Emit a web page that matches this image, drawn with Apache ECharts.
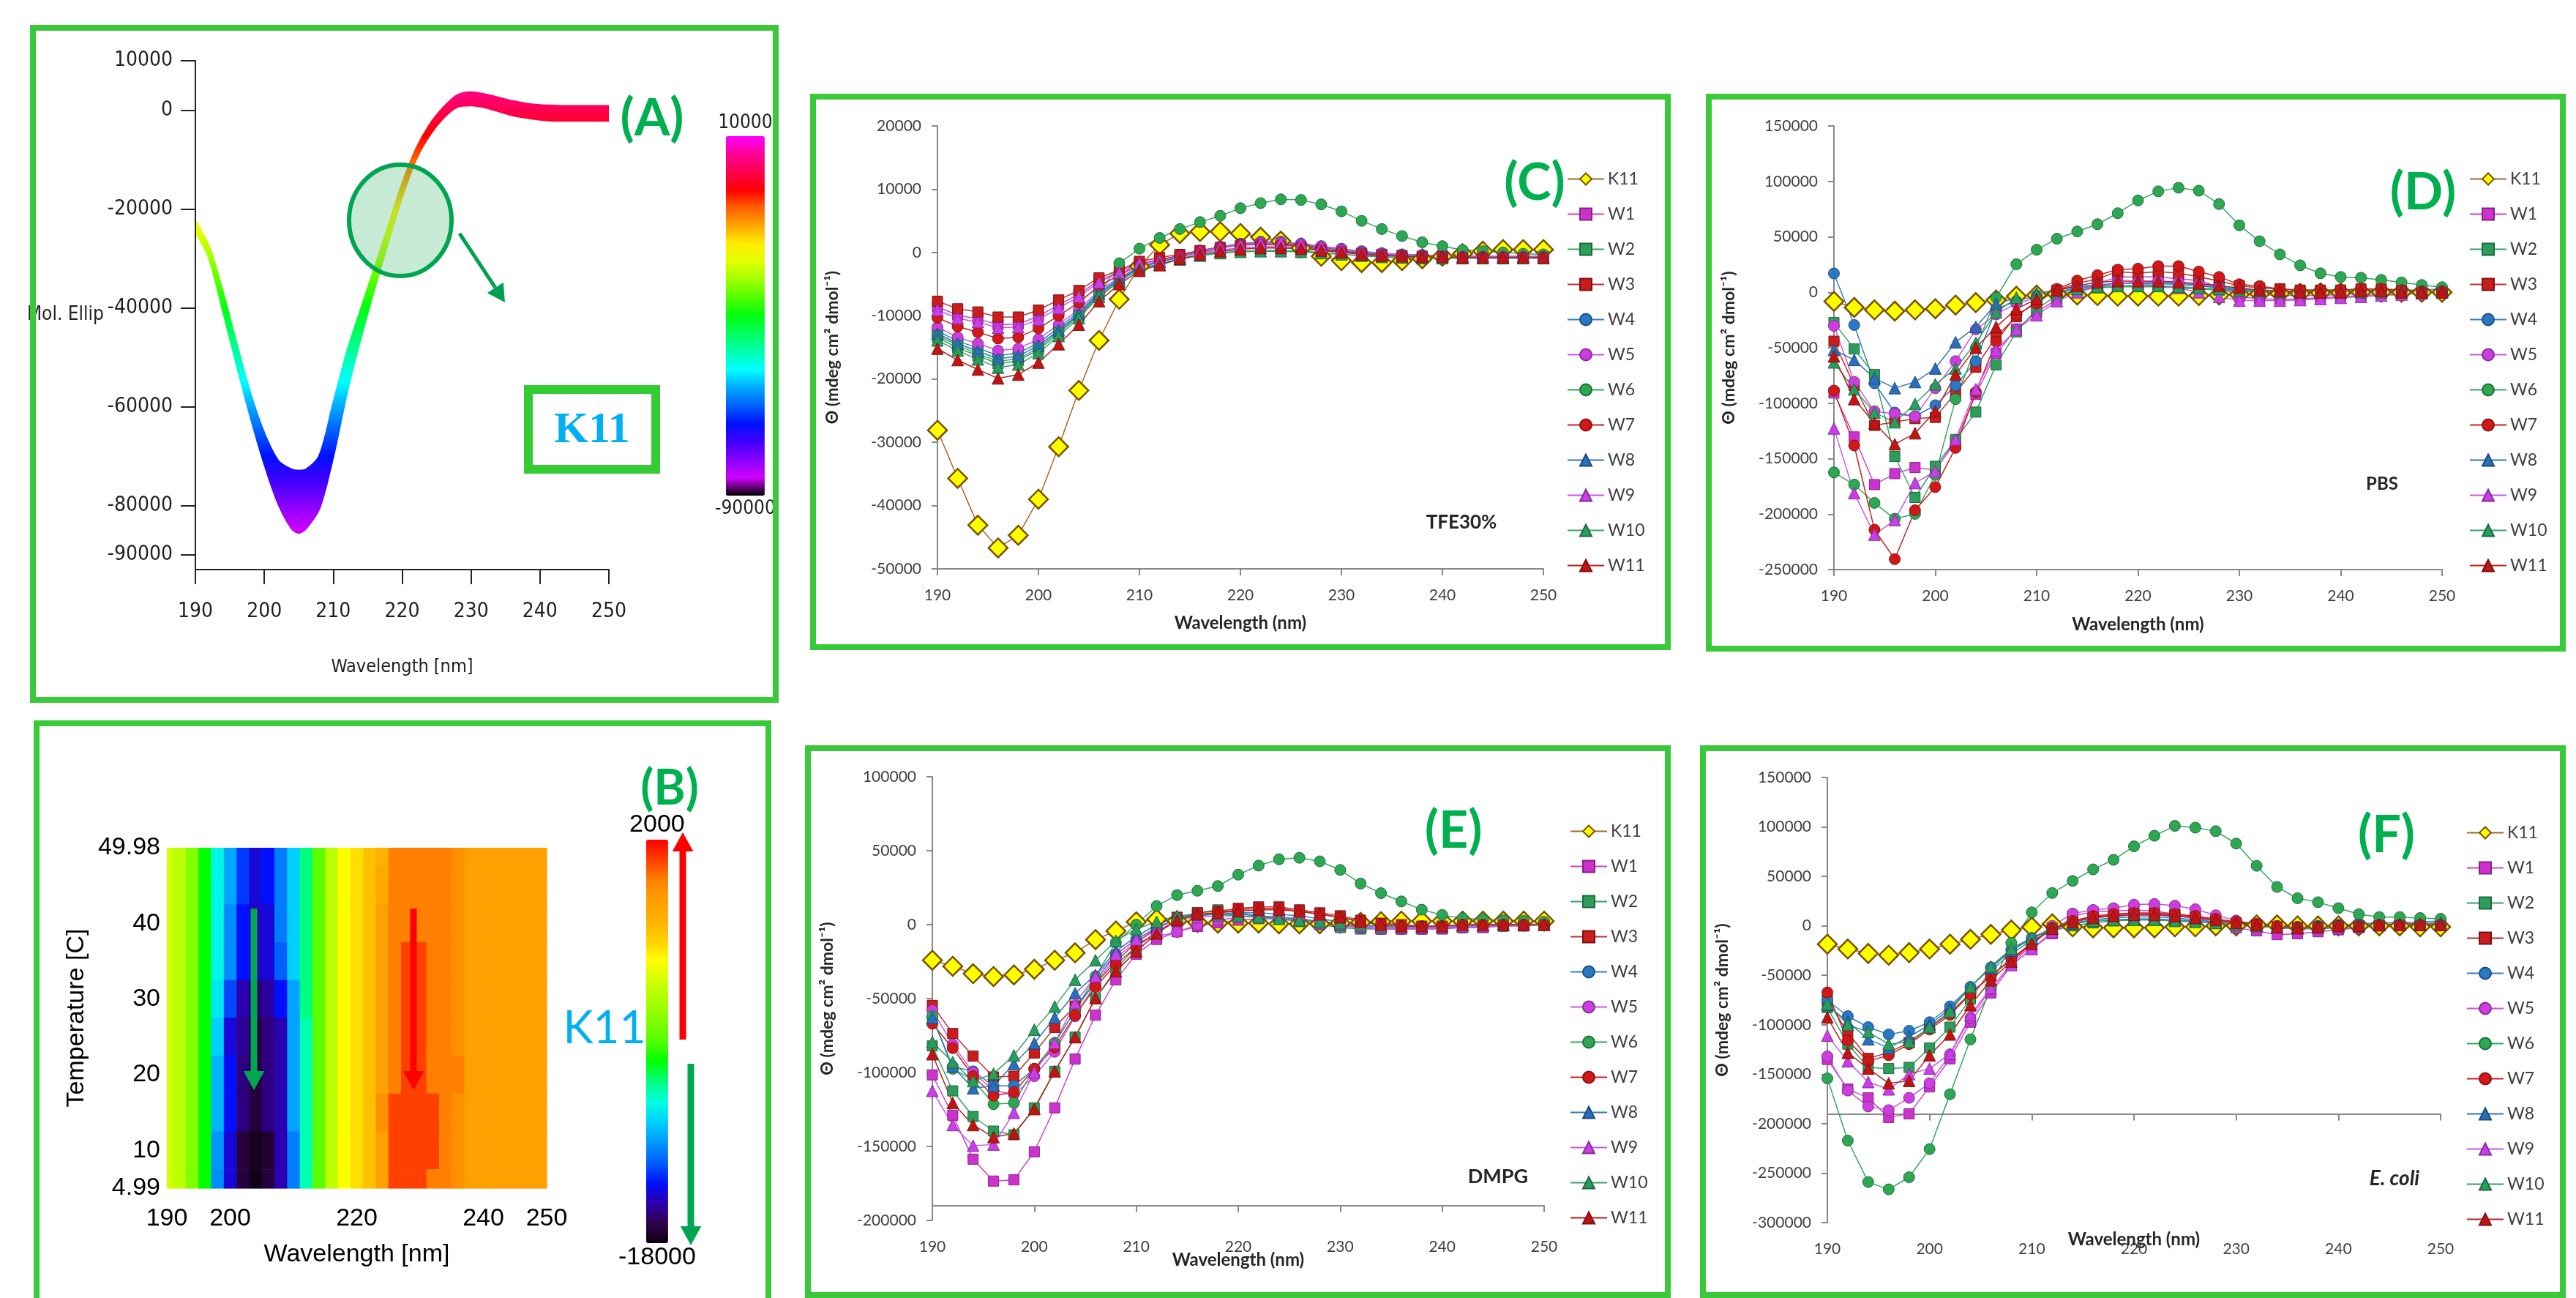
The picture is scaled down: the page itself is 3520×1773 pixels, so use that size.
<!DOCTYPE html>
<html>
<head>
<meta charset="utf-8">
<script src="https://cdn.jsdelivr.net/npm/echarts@6/dist/echarts.min.js"></script>
<style>
html,body{margin:0;padding:0;background:#fff}
#chart{width:3520px;height:1773px}
</style>
</head>
<body>
<div id="chart"></div>
<script>
// ---------- data ----------
var wavelengths = [190,192,194,196,198,200,202,204,206,208,210,212,214,216,218,220,222,224,226,228,230,232,234,236,238,240,242,244,246,248,250];
var seriesNames = ['K11','W1','W2','W3','W4','W5','W6','W7','W8','W9','W10','W11'];

// panel A: K11 band (upper / lower edge of the temperature curves)
var waveA  = [190,192,194,196,198,200,202,204,205,206,208,210,212,214,216,218,220,222,224,226,228,230,232,234,236,238,240,242,244,246,248,250];
var upperA = [-22500,-27700,-37000,-47500,-57500,-65500,-71000,-72800,-73000,-72800,-70000,-59500,-49000,-40500,-32000,-23500,-15000,-8000,-3000,500,3000,3600,3200,2500,1800,1300,1000,900,800,800,800,800];
var lowerA = [-24500,-30000,-40500,-51500,-62000,-71500,-79500,-84700,-85500,-84700,-80500,-70000,-57000,-46000,-36000,-26500,-17500,-10000,-5000,-1500,700,1000,600,-200,-1000,-1500,-1900,-2100,-2100,-2100,-2100,-2100];
var ticksA = [10000,0,-20000,-40000,-60000,-80000,-90000];

// panel B: thermal scan heat map
var tempRows = [49.98,45,40,35,30,25,20,15,10,4.99];
var heatT50 = [-5000,-5500,-7000,-9000,-11200,-12700,-14500,-15500,-15000,-13500,-12000,-10000,-7800,-5500,-4000,-3300,-2500,-2000,0,0,0,0,0,-500,-1000,-1000,-1000,-1000,-1000,-1000,-1000];
var heatT45 = [-5000,-5500,-7000,-9000,-11200,-12700,-14500,-15500,-15000,-13500,-12000,-10000,-7800,-5500,-4000,-3300,-2500,-1500,0,0,0,0,0,-500,-1000,-1000,-1000,-1000,-1000,-1000,-1000];
var heatT40 = [-5000,-5500,-7000,-9000,-11200,-13200,-15000,-15800,-15500,-13500,-12000,-10000,-7800,-5500,-4000,-3300,-2500,-1000,0,0,0,0,0,-500,-1000,-1000,-1000,-1000,-1000,-1000,-1000];
var heatT35 = [-5000,-5500,-7000,-9000,-11200,-13200,-15000,-15800,-15500,-14000,-12000,-10000,-7800,-5500,-4000,-3300,-2500,-1000,0,1000,1000,0,0,-500,-1000,-1000,-1000,-1000,-1000,-1000,-1000];
var heatT30 = [-5000,-5500,-7000,-9000,-11500,-14300,-16000,-16700,-16200,-15000,-12800,-10000,-7800,-5500,-4000,-3300,-2500,-1000,0,1000,1000,0,0,-500,-1000,-1000,-1000,-1000,-1000,-1000,-1000];
var heatT25 = [-5000,-5500,-7000,-9000,-12000,-15500,-16300,-17300,-16500,-16000,-12800,-10500,-7800,-5500,-4000,-3300,-2500,-1000,0,1000,1000,0,0,-500,-1000,-1000,-1000,-1000,-1000,-1000,-1000];
var heatT20 = [-5000,-5500,-7000,-9000,-12500,-15000,-16500,-17300,-16500,-16000,-12800,-10500,-7800,-5500,-4000,-3300,-2500,-1000,0,1000,1000,0,0,0,-1000,-1000,-1000,-1000,-1000,-1000,-1000];
var heatT15 = [-5000,-5500,-7000,-9000,-12500,-15000,-16500,-17300,-16500,-16000,-12800,-10500,-7800,-5500,-4000,-3300,-2500,-500,1000,1000,1000,1000,0,-500,-1000,-1000,-1000,-1000,-1000,-1000,-1000];
var heatT10 = [-5000,-5500,-7000,-9000,-13000,-15500,-17300,-17800,-17500,-16000,-13500,-10500,-7800,-5500,-4000,-3300,-2500,-1000,1000,1000,1000,1000,0,-500,-1000,-1000,-1000,-1000,-1000,-1000,-1000];
var heatT5  = [-5000,-5500,-7000,-9000,-13200,-15500,-17300,-17900,-17300,-16000,-13500,-10500,-7800,-5500,-4000,-3300,-2500,-1000,1000,1000,1000,0,0,-500,-1000,-1000,-1000,-1000,-1000,-1000,-1000];
var heatRows = [heatT50,heatT45,heatT40,heatT35,heatT30,heatT25,heatT20,heatT15,heatT10,heatT5];

// panel C: TFE30%
var tfeK11 = [-28100,-35700,-43100,-46700,-44700,-39000,-30700,-21800,-13900,-7400,-2200,1200,3000,3300,3300,3000,2400,1800,700,-600,-1300,-1600,-1600,-1300,-1000,-600,-200,200,450,450,450];
var tfeW1  = [-8600,-9900,-10500,-11400,-11300,-10100,-8300,-6600,-4400,-3100,-1600,-1200,-600,0,400,700,900,900,700,400,100,-200,-400,-500,-600,-600,-600,-600,-600,-600,-600];
var tfeW2  = [-13400,-15100,-16300,-17600,-17100,-15400,-12800,-10100,-6800,-4500,-2500,-1800,-1000,-400,0,200,300,300,200,0,-300,-500,-700,-800,-800,-800,-800,-800,-800,-800,-800];
var tfeW3  = [-7700,-8900,-9400,-10200,-10200,-9100,-7500,-6000,-4000,-2800,-1400,-800,-300,300,800,1100,1300,1200,900,500,200,-100,-300,-500,-600,-600,-700,-700,-700,-700,-700];
var tfeW4  = [-12400,-14000,-15100,-16300,-15900,-14300,-11900,-9400,-6300,-4200,-2300,-1400,-700,200,900,1400,1700,1700,1400,1000,600,200,-100,-300,-400,-500,-500,-600,-600,-600,-600];
var tfeW5  = [-11800,-13400,-14400,-15500,-15200,-13700,-11400,-9000,-6000,-4000,-2200,-1300,-600,300,900,1300,1600,1600,1300,900,500,100,-200,-400,-500,-500,-600,-600,-600,-600,-600];
var tfeW6  = [-13100,-14700,-16000,-17200,-16800,-15100,-12500,-9900,-6700,-1700,600,2300,3700,4800,5800,7000,7800,8400,8300,7600,6500,5000,3700,2600,1600,1000,400,200,0,-200,-300];
var tfeW7  = [-10300,-11700,-12600,-13600,-13400,-12000,-10000,-7900,-5300,-3600,-1900,-1100,-500,300,800,1200,1300,1200,1000,600,200,-100,-400,-500,-600,-700,-700,-700,-700,-700,-700];
var tfeW8  = [-12800,-14400,-15600,-16800,-16400,-14700,-12300,-9700,-6500,-4300,-2400,-1500,-800,100,700,1200,1500,1500,1200,800,400,0,-300,-400,-500,-500,-600,-600,-600,-600,-600];
var tfeW9  = [-9100,-10400,-11000,-11900,-11800,-10600,-8800,-7000,-4700,-3200,-1700,-1300,-600,200,800,1200,1500,1600,1400,1000,500,100,-200,-400,-500,-600,-600,-600,-600,-600,-600];
var tfeW10 = [-13900,-15500,-16900,-18200,-17700,-15900,-13200,-10400,-7000,-4600,-2600,-1900,-1100,-500,-100,100,200,200,100,-100,-300,-500,-700,-800,-900,-900,-900,-900,-900,-900,-900];
var tfeW11 = [-15200,-17000,-18500,-19900,-19300,-17400,-14500,-11400,-7700,-5000,-2900,-2000,-1000,-300,200,500,700,700,600,300,0,-300,-500,-600,-700,-700,-800,-800,-800,-800,-800];

// panel D: PBS
var pbsK11 = [-8200,-13700,-15900,-17000,-15900,-14800,-11500,-9300,-7000,-3500,-2500,-1500,-2500,-3000,-3500,-3500,-3500,-3500,-3000,-2500,-2000,-1500,-1000,-1000,-500,-500,0,0,0,0,0];
var pbsW1  = [-90800,-130400,-173400,-163500,-158000,-160200,-134800,-92000,-55000,-33000,-18000,-6000,2000,8000,13800,13800,13800,12200,10500,5000,-4000,-6000,-6500,-6000,-5000,-4000,-3000,-2000,-1500,-1000,0];
var pbsW2  = [-27300,-51100,-74200,-148000,-185000,-156900,-133000,-108000,-65400,-35700,-15000,-3000,2000,4000,5000,5000,5000,4000,3000,2000,1000,0,0,0,0,500,1000,1000,1000,1000,1000];
var pbsW3  = [-44100,-84100,-120000,-117000,-113900,-112800,-90800,-67600,-40100,-22000,-8000,2000,8000,12000,18700,17100,18700,17100,14000,10000,6000,4000,3000,2000,2000,2000,3000,3000,2000,1000,1000];
var pbsW4  = [17000,-29500,-82000,-108400,-111700,-101800,-84100,-62100,-15000,-8000,-3000,0,4000,6000,8000,9000,9000,8000,7000,5000,3000,2000,1000,1000,1000,1000,2000,2000,2000,2000,3000];
var pbsW5  = [-30200,-80800,-107300,-109500,-112000,-86400,-62100,-33500,-20000,-10000,-5000,-1000,3000,6000,8000,9000,10000,9000,7000,4000,0,-2000,-3000,-3000,-3000,-2000,-1000,0,0,0,0];
var pbsW6  = [-162400,-173400,-189900,-204200,-199800,-164700,-96300,-50000,-4800,25300,38400,48300,54800,61400,71300,82800,91000,94300,91600,79500,60400,46000,34200,24300,17100,13800,13100,11200,8900,6600,4600];
var pbsW7  = [-88600,-138100,-214100,-240600,-196500,-175600,-140300,-90000,-44500,-20300,-10000,3000,10500,15400,20400,21300,23600,23600,18700,13800,7200,5600,3000,2000,2000,2000,3000,3000,2000,1000,1000];
var pbsW8  = [-52000,-61000,-77500,-86400,-80900,-68700,-45000,-31300,-10400,-4800,-1000,2000,5000,7000,8000,8000,8000,7000,6000,4000,2000,1000,0,0,0,0,1000,1000,1000,1000,1000];
var pbsW9  = [-122700,-181100,-218500,-205300,-172000,-161300,-132600,-87500,-52200,-33500,-20700,-8000,0,5000,8000,8000,6000,4000,0,-4000,-7500,-7500,-7500,-7000,-6000,-5000,-4000,-3000,-2000,-1000,0];
var pbsW10 = [-63200,-87500,-108400,-117200,-100700,-83000,-68700,-45600,-18100,-5000,-2000,1000,3000,5000,6000,6000,6000,5000,4000,3000,2000,1000,0,0,0,0,0,0,0,0,0];
var pbsW11 = [-57700,-96300,-118000,-137000,-127100,-107300,-74200,-50000,-31300,-15000,-6000,2000,6000,9000,10000,10000,10000,9000,8000,6000,4000,2000,1000,0,0,0,1000,1000,0,0,0];

// panel E: DMPG
var dmpgK11 = [-24100,-28200,-33200,-35100,-34000,-30200,-24100,-19100,-10100,-4300,1900,3600,2500,1500,1000,1000,1000,500,500,500,1000,1500,2000,2400,2400,2400,2400,2400,2400,2400,2400];
var dmpgW1  = [-101600,-128900,-158600,-173400,-172600,-153600,-123900,-90900,-61200,-37300,-20000,-10000,-4800,-1200,1200,3000,4000,4000,3000,1000,-1000,-2000,-3000,-3000,-3000,-3000,-2000,-2000,-1000,-1000,0];
var dmpgW2  = [-82000,-112400,-129700,-139600,-142100,-123900,-99200,-76100,-50000,-30000,-15000,-5000,3000,8000,10000,8000,6000,4000,2000,0,-2000,-3000,-3000,-3000,-3000,-2000,-2000,-1000,-1000,0,0];
var dmpgW3  = [-54600,-73600,-88900,-103000,-102500,-86800,-69500,-55000,-40000,-25000,-12000,-3000,5000,8000,9000,11000,12000,12000,10000,8000,6000,3000,1000,0,-1000,-1000,-1000,0,0,0,0];
var dmpgW4  = [-62900,-95900,-99200,-109000,-109000,-97500,-80000,-58000,-38000,-20000,-10000,-2000,4000,6000,7000,8000,8000,7000,6000,4000,2000,0,-1000,-2000,-2000,-2000,-1000,-1000,0,0,0];
var dmpgW5  = [-57900,-81000,-100000,-112000,-115000,-102500,-86000,-62000,-40000,-22000,-12000,-8000,-5000,0,3000,5000,6000,5000,4000,2000,0,-2000,-3000,-3000,-3000,-2000,-2000,-1000,-1000,0,0];
var dmpgW6  = [-62000,-97500,-105000,-121400,-120600,-97500,-80000,-58000,-35000,-12000,0,12600,20000,22900,26100,33800,39900,44200,45200,42800,37000,27800,21300,15700,10100,6500,4300,3500,3000,2500,2000];
var dmpgW7  = [-67000,-83500,-102500,-115700,-113200,-97500,-83000,-61200,-42200,-27000,-15000,-5000,3000,6000,8000,10000,11000,11000,9000,7000,5000,2000,0,-1000,-1000,-1000,0,0,0,0,0];
var dmpgW8  = [-63000,-96000,-110700,-109000,-94200,-80200,-62900,-46400,-34000,-18000,-8000,0,5000,7000,7000,7000,6000,5000,4000,2000,0,-1000,-2000,-2000,-2000,-2000,-1000,-1000,0,0,0];
var dmpgW9  = [-112400,-135500,-149500,-148700,-127200,-100000,-80000,-53000,-35000,-20000,-10000,-3000,4000,5000,6000,6000,5000,4000,3000,1000,0,-1000,-2000,-2000,-2000,-2000,-1000,-1000,0,0,0];
var dmpgW10 = [-79400,-93000,-105800,-100800,-88400,-71100,-55400,-37300,-24100,-10900,-3000,2000,6000,7000,7000,6000,5000,4000,3000,2000,1000,0,-1000,-1000,-1000,-1000,0,0,0,0,0];
var dmpgW11 = [-87600,-120600,-135500,-143700,-141200,-124700,-99200,-76100,-49700,-31500,-18000,-6000,3000,7000,8000,9000,10000,10000,9000,7000,5000,2000,0,-1000,-1000,-1000,0,0,0,0,0];

// panel F: E. coli
var ecoliK11 = [-18500,-23400,-27900,-29600,-27100,-23400,-18500,-13600,-8600,-4200,-1200,2000,-1000,-2000,-2000,-2000,-2000,-1000,-1000,0,0,1000,1000,0,0,0,0,0,0,-1000,-1000];
var ecoliW1  = [-135000,-165000,-173900,-193700,-190000,-162800,-134400,-97400,-67800,-40000,-23400,-8000,10000,14000,15000,16000,15000,12000,8000,3000,-2000,-5000,-8900,-8000,-6000,-4000,-2000,0,1000,2000,3000];
var ecoliW2  = [-82600,-119600,-143100,-144300,-143100,-123400,-102400,-74000,-45000,-28000,-15000,-5000,0,3000,5000,6000,6000,5000,4000,3000,2000,0,-2000,-3000,-3000,-2000,-1000,0,0,0,0];
var ecoliW3  = [-75000,-108000,-134000,-128000,-118000,-103000,-88000,-68000,-50600,-34500,-17300,-2000,5000,9000,11000,12000,12000,11000,9000,6000,3000,1000,-1000,-2000,-2000,-1000,0,0,1000,1000,1000];
var ecoliW4  = [-75200,-91300,-102400,-109800,-106100,-97400,-81400,-61700,-41900,-24000,-12300,-3000,3000,6000,8000,9000,9000,8000,6000,4000,2000,0,-1000,-1000,0,1000,2000,3000,3000,4000,5000];
var ecoliW5  = [-132000,-166500,-182600,-186300,-173900,-159100,-130000,-93000,-64000,-38000,-20000,0,12500,16100,17900,21400,22100,20400,16800,10700,5400,1800,-1800,-2000,-2000,-1000,0,1000,2000,2000,3000];
var ecoliW6  = [-154200,-217100,-259000,-266400,-254100,-225700,-170200,-114700,-62000,-17300,13600,33200,45400,57100,66800,80400,91100,101100,99300,95700,83200,60700,39300,27900,23900,17900,11800,8900,8900,7900,7100];
var ecoliW7  = [-67300,-116000,-136900,-130800,-119600,-104800,-90000,-69100,-50600,-33000,-17300,-2000,5000,10000,12000,13000,13000,12000,10000,7000,4000,2000,0,-1000,-1000,0,0,1000,1000,1000,1000];
var ecoliW8  = [-80000,-97000,-114700,-123400,-112000,-100000,-84000,-61700,-42500,-25000,-13000,-3000,2000,5000,6000,7000,7000,6000,5000,3000,1000,0,-1000,-1000,0,0,1000,1000,2000,2000,3000];
var ecoliW9  = [-111000,-136900,-157900,-165300,-150000,-144300,-129500,-90000,-62900,-39500,-23400,-6000,4000,8000,10000,11000,11000,10000,8000,5000,2000,0,-2000,-3000,-2000,-1000,0,1000,1000,2000,2000];
var ecoliW10 = [-78900,-100000,-107300,-119600,-117200,-102400,-86300,-61700,-41000,-23000,-12000,-2000,3000,5000,6000,6000,6000,5000,4000,3000,1000,0,-1000,-1000,0,0,1000,1000,1000,2000,2000];
var ecoliW11 = [-92500,-128300,-144300,-159100,-156700,-130800,-109800,-80200,-55000,-36000,-18000,-3000,4000,8000,10000,11000,11000,10000,8000,6000,3000,1000,-1000,-2000,-1000,0,0,1000,1000,1000,1000];

var tfeData   = [tfeK11,tfeW1,tfeW2,tfeW3,tfeW4,tfeW5,tfeW6,tfeW7,tfeW8,tfeW9,tfeW10,tfeW11];
var pbsData   = [pbsK11,pbsW1,pbsW2,pbsW3,pbsW4,pbsW5,pbsW6,pbsW7,pbsW8,pbsW9,pbsW10,pbsW11];
var dmpgData  = [dmpgK11,dmpgW1,dmpgW2,dmpgW3,dmpgW4,dmpgW5,dmpgW6,dmpgW7,dmpgW8,dmpgW9,dmpgW10,dmpgW11];
var ecoliData = [ecoliK11,ecoliW1,ecoliW2,ecoliW3,ecoliW4,ecoliW5,ecoliW6,ecoliW7,ecoliW8,ecoliW9,ecoliW10,ecoliW11];

// ---------- styles ----------
var symbols   = ['diamond','rect','rect','rect','circle','circle','circle','circle','triangle','triangle','triangle','triangle'];
var symSizes  = [26,14,14,14,15,15,15,15,16,16,16,16];
var fills     = ['#ffff00','#cc33cc','#2e9c5a','#c81e1e','#2b78c2','#cc3fdc','#2ea653','#d01818','#2b6fb8','#c83fe6','#2a9c5e','#bf1515'];
var borders   = ['#7a5200','#8a1f8a','#1d6b3c','#801010','#1a4f85','#8a2a99','#1d7038','#8a1010','#1a4a80','#8a2aa0','#1d6b40','#801010'];
var lineCols  = ['#a8672a','#cc44cc','#33a366','#c03030','#3380c8','#cc55dd','#33a860','#cc2020','#3377bb','#cc55ee','#33a366','#bb2020'];

var narrow = "'Liberation Sans Narrow', 'DejaVu Sans Condensed', 'Liberation Sans', sans-serif";
var plain = function (v) { return String(v); };

var chart = echarts.init(document.getElementById('chart'));

var grids = [
  {left: 267, top: 83, width: 565, height: 695},
  {left: 228, top: 1158, width: 519, height: 465},
  {left: 1281, top: 172, width: 828, height: 605},
  {left: 2506, top: 172, width: 831, height: 606},
  {left: 1274, top: 1061, width: 836, height: 606},
  {left: 2497, top: 1062, width: 838, height: 608}
];

function xAxisCD(gi, gap, zeroIdx) {
  var line = {show: true, onZero: false, lineStyle: {color: '#888', width: 2}};
  if (zeroIdx != null) { line.onZero = true; line.onZeroAxisIndex = zeroIdx; }
  return {
    gridIndex: gi, type: 'value', min: 190, max: 250, interval: 10,
    axisLine: line,
    axisTick: {show: true, length: 9, lineStyle: {color: '#888', width: 2}},
    axisLabel: {margin: 26, fontSize: 21, fontFamily: 'Lato', color: '#404040'},
    splitLine: {show: false},
    name: 'Wavelength (nm)', nameLocation: 'middle', nameGap: gap, nameMoveOverlap: false,
    nameTextStyle: {fontSize: 24, fontWeight: 'bold', fontFamily: 'Lato', color: '#262626'}
  };
}
function yAxisCD(gi, min, max, step) {
  return {
    gridIndex: gi, type: 'value', min: min, max: max, interval: step,
    axisLine: {show: true, lineStyle: {color: '#888', width: 2}},
    axisTick: {show: true, length: 8, lineStyle: {color: '#888', width: 2}},
    axisLabel: {margin: 22, fontSize: 21, fontFamily: 'Lato', color: '#404040', formatter: plain},
    splitLine: {show: false},
    name: 'Θ (mdeg cm² dmol⁻¹)', nameLocation: 'middle', nameGap: 132,
    nameTextStyle: {fontSize: 23, fontWeight: 'bold', fontFamily: 'Lato', color: '#262626'}
  };
}

function panelSeries(gi, data) {
  return seriesNames.map(function (n, i) {
    return {
      name: n, type: 'line', xAxisIndex: gi, yAxisIndex: gi,
      data: wavelengths.map(function (w, j) { return [w, data[i][j]]; }),
      symbol: symbols[i], symbolSize: symSizes[i],
      lineStyle: {color: lineCols[i], width: 1.5},
      itemStyle: {color: fills[i], borderColor: borders[i], borderWidth: i === 0 ? 2.5 : 1},
      z: 3
    };
  });
}

function legendAt(left, top) {
  return {
    data: seriesNames, orient: 'vertical', left: left, top: top, padding: 0,
    itemWidth: 50, itemHeight: 20, itemGap: 25, selectedMode: false,
    textStyle: {fontSize: 23, fontFamily: 'Lato', color: '#404040'}
  };
}

var heatData = [];
heatRows.forEach(function (row, r) {
  row.forEach(function (v, c) { heatData.push([wavelengths[c], tempRows[r], v]); });
});

function renderCell(params, api) {
  var w = api.value(0), t = api.value(1);
  var p0 = api.coord([Math.max(w - 1, 190), Math.min(t + 2.5, 49.98)]);
  var p1 = api.coord([Math.min(w + 1, 250), Math.max(t - 2.5, 4.99)]);
  return {
    type: 'rect',
    shape: {x: p0[0], y: p0[1], width: p1[0] - p0[0] + 0.6, height: p1[1] - p0[1] + 0.6},
    style: {fill: api.visual('color')}
  };
}

// ---------- decorations ----------
function arrow(x1, y1, x2, y2, color, w, head) {
  var dx = x2 - x1, dy = y2 - y1, len = Math.sqrt(dx * dx + dy * dy);
  var ux = dx / len, uy = dy / len;
  var bx = x2 - ux * head, by = y2 - uy * head, hw = head * 0.55;
  return [
    {type: 'line', z: 100, shape: {x1: x1, y1: y1, x2: bx, y2: by}, style: {stroke: color, lineWidth: w}},
    {type: 'polygon', z: 100, shape: {points: [[x2, y2], [bx - uy * hw, by + ux * hw], [bx + uy * hw, by - ux * hw]]}, style: {fill: color}}
  ];
}
function frame(x1, y1, x2, y2) {
  return {type: 'rect', z: 50, shape: {x: x1, y: y1, width: x2 - x1, height: y2 - y1},
    style: {fill: 'none', stroke: '#39c939', lineWidth: 8}};
}
function label(txt, x, y, font, color) {
  return {type: 'text', z: 100, style: {text: txt, x: x, y: y, font: font, fill: color, align: 'center', verticalAlign: 'middle'}};
}

var elements = [
  frame(45, 38, 1060, 956),
  frame(50, 988, 1050, 1790),
  frame(1111, 132, 2279, 884),
  frame(2335, 132, 3502, 886),
  frame(1104, 1022, 2279, 1769),
  frame(2327, 1022, 3502, 1769),
  {type: 'ellipse', z: 90, shape: {cx: 547, cy: 301, rx: 70, ry: 76},
    style: {fill: 'rgba(70,185,115,0.30)', stroke: '#00a550', lineWidth: 6}},
  {type: 'rect', z: 90, shape: {x: 722, y: 532, width: 174, height: 109},
    style: {fill: '#fff', stroke: '#33cc33', lineWidth: 12}},
  label('K11', 809, 588, "bold 60px 'Liberation Serif', serif", '#00b0f0'),
  label('(A)', 891, 162, 'bold 70px Lato', '#00b050'),
  label('(B)', 915, 1078, 'bold 66px Lato', '#00b050'),
  label('K11', 826, 1405, '62px Lato', '#00b0f0'),
  label('(C)', 2097, 250, 'bold 70px Lato', '#00b050'),
  label('(D)', 3311, 263, 'bold 70px Lato', '#00b050'),
  label('(E)', 1986, 1135, 'bold 70px Lato', '#00b050'),
  label('(F)', 3261, 1141, 'bold 70px Lato', '#00b050'),
  label('TFE30%', 1997, 714, 'bold 26px Lato', '#262626'),
  label('PBS', 3255, 661, 'bold 24px Lato', '#262626'),
  label('DMPG', 2047, 1607, 'bold 27px Lato', '#262626'),
  label('E. coli', 3272, 1610, 'italic bold 28px Lato', '#262626')
]
.concat(arrow(628, 319, 690, 413, '#00a050', 5, 24))
.concat(arrow(347, 1241, 347, 1489, '#00a651', 9, 26))
.concat(arrow(565, 1241, 565, 1489, '#ff0000', 9, 26))
.concat(arrow(933, 1420, 933, 1137, '#ff0000', 9, 26))
.concat(arrow(944, 1453, 944, 1701, '#00a651', 9, 26));

// ---------- option ----------
var option = {
  animation: false,
  backgroundColor: '#ffffff',
  grid: grids.map(function (g) { return Object.assign({outerBoundsMode: 'none', containLabel: false}, g); }),
  xAxis: [
    {
      gridIndex: 0, type: 'value', min: 190, max: 250, interval: 10, z: 10,
      axisLine: {show: true, onZero: false, lineStyle: {color: '#222', width: 2}},
      axisTick: {show: true, length: 20, lineStyle: {color: '#222', width: 2}},
      axisLabel: {margin: 44, fontSize: 28, fontFamily: narrow, color: '#222'},
      splitLine: {show: false},
      name: 'Wavelength [nm]', nameLocation: 'middle', nameGap: 121,
      nameTextStyle: {fontSize: 25, fontFamily: narrow, color: '#222'}
    },
    {
      gridIndex: 1, type: 'value', min: 190, max: 250,
      axisLine: {show: false, onZero: false}, axisTick: {show: false},
      axisLabel: {customValues: [190, 200, 220, 240, 250], margin: 25, fontSize: 34, fontFamily: 'Liberation Sans', color: '#000'},
      splitLine: {show: false},
      name: 'Wavelength [nm]', nameLocation: 'middle', nameGap: 74,
      nameTextStyle: {fontSize: 34, fontFamily: 'Liberation Sans', color: '#000'}
    },
    xAxisCD(2, 62),
    xAxisCD(3, 63),
    xAxisCD(4, 42, 6),
    xAxisCD(5, 11, 7)
  ],
  yAxis: [
    {
      gridIndex: 0, type: 'value', min: -93000, max: 10000, z: 10,
      axisLine: {show: true, onZero: false, lineStyle: {color: '#222', width: 2}},
      axisTick: {show: true, length: 20, customValues: ticksA, lineStyle: {color: '#222', width: 2}},
      axisLabel: {customValues: ticksA, margin: 31, fontSize: 28, fontFamily: narrow, color: '#222', formatter: plain},
      splitLine: {show: false},
      name: 'Mol. Ellip', nameLocation: 'middle', nameRotate: 0, nameGap: 89,
      nameTextStyle: {fontSize: 26, fontFamily: narrow, color: '#222'}
    },
    {
      gridIndex: 1, type: 'value', min: 4.99, max: 49.98,
      axisLine: {show: false, onZero: false}, axisTick: {show: false},
      axisLabel: {customValues: [4.99, 10, 20, 30, 40, 49.98], margin: 9, fontSize: 34, fontFamily: 'Liberation Sans', color: '#000', formatter: plain},
      splitLine: {show: false},
      name: 'Temperature [C]', nameLocation: 'middle', nameGap: 106,
      nameTextStyle: {fontSize: 34, fontFamily: 'Liberation Sans', color: '#000'}
    },
    yAxisCD(2, -50000, 20000, 10000),
    yAxisCD(3, -250000, 150000, 50000),
    yAxisCD(4, -200000, 100000, 50000),
    yAxisCD(5, -300000, 150000, 50000),
    // hidden helper axes whose zero sits at -190000, where the x axes of E and F cross
    {gridIndex: 4, type: 'value', min: -10000, max: 290000, show: false},
    {gridIndex: 5, type: 'value', min: -110000, max: 340000, show: false}
  ],
  visualMap: [
    {
      type: 'continuous', min: -90000, max: 10000, dimension: 1, seriesIndex: [0, 1],
      orient: 'vertical', left: 977, top: 155, itemWidth: 53, itemHeight: 491,
      text: ['10000', '-90000'], textGap: 5, calculable: false, hoverLink: false, padding: 0,
      textStyle: {fontSize: 26, fontFamily: narrow, color: '#222'},
      inRange: {color: ['#000000','#d000ff','#8800ff','#4000ff','#0010ff','#0060ff','#00a8ff','#00ffff','#00ffb0','#00ff60','#00ff10','#50ff00','#a0ff00','#e0ff00','#ffee00','#ffa800','#ff6000','#ff0000','#ff0050','#ff0098','#ff00ff']}
    },
    {
      type: 'continuous', min: -18000, max: 2000, dimension: 2, seriesIndex: 2,
      orient: 'vertical', left: 845, top: 1110, itemWidth: 30, itemHeight: 551,
      text: ['2000', '-18000'], textGap: 3, calculable: false, hoverLink: false, padding: 0,
      textStyle: {fontSize: 34, fontFamily: 'Liberation Sans', color: '#000'},
      inRange: {color: ['#100010','#300050','#2a00b0','#0010ff','#0060ff','#0098ff','#00d0ff','#00ffe0','#00ff80','#00ff00','#50ff00','#80ff00','#a8ff00','#d0ff00','#ffff00','#ffd000','#ffb000','#ffa000','#ff8000','#ff4000','#ff0000']}
    }
  ],
  legend: [legendAt(2141, 233), legendAt(3374, 233), legendAt(2145, 1124), legendAt(3370, 1126)],
  series: [
    // upper edge, filled down to the axis with the colour-mapped gradient
    {
      type: 'line', xAxisIndex: 0, yAxisIndex: 0,
      data: waveA.map(function (w, i) { return [w, upperA[i]]; }),
      smooth: 0.3, symbol: 'none', lineStyle: {width: 3},
      areaStyle: {origin: 'start', opacity: 1}, z: 2
    },
    // lower edge, white fill below it leaves only the band between the edges
    {
      type: 'line', xAxisIndex: 0, yAxisIndex: 0,
      data: waveA.map(function (w, i) { return [w, lowerA[i]]; }),
      smooth: 0.3, symbol: 'none', lineStyle: {width: 3},
      areaStyle: {origin: 'start', color: '#ffffff', opacity: 1}, z: 3
    },
    {
      type: 'custom', xAxisIndex: 1, yAxisIndex: 1, coordinateSystem: 'cartesian2d',
      data: heatData, encode: {x: 0, y: 1}, renderItem: renderCell, z: 2
    }
  ]
  .concat(panelSeries(2, tfeData))
  .concat(panelSeries(3, pbsData))
  .concat(panelSeries(4, dmpgData))
  .concat(panelSeries(5, ecoliData)),
  graphic: {elements: elements}
};

chart.setOption(option);
window.addEventListener('resize', function () { chart.resize(); });
</script>
</body>
</html>
